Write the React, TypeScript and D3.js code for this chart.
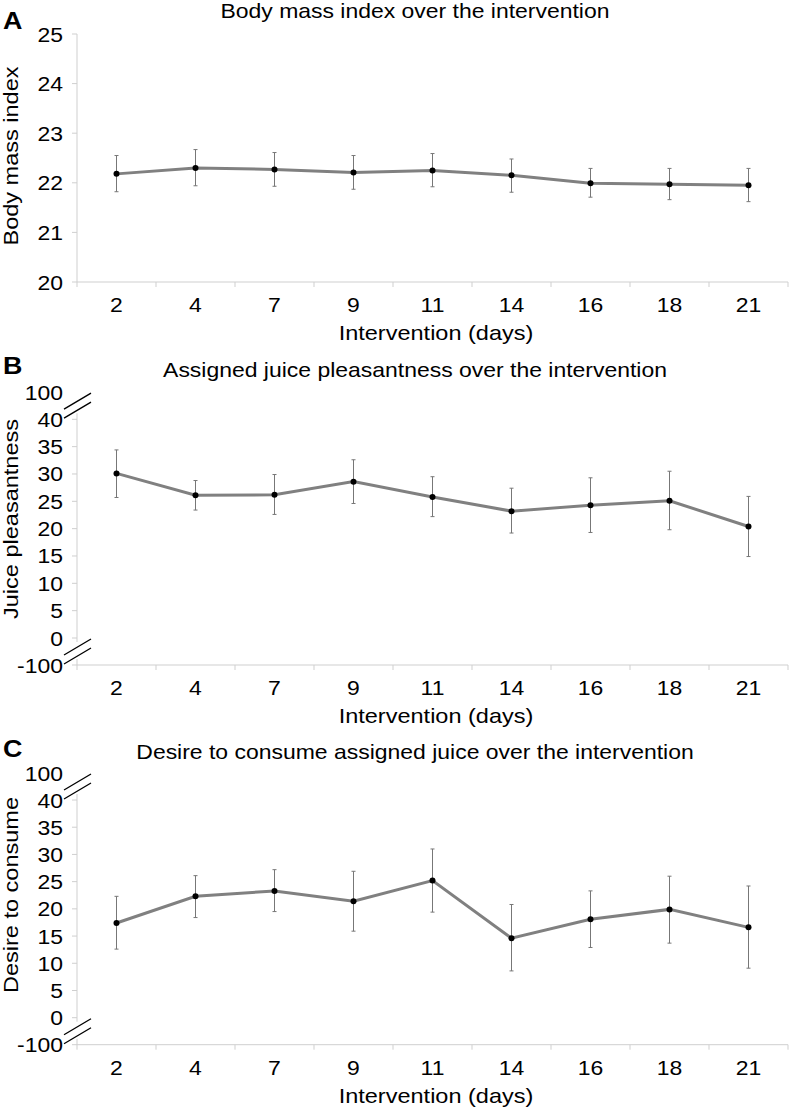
import React from 'react';
import * as d3 from 'd3';

// intervention days (x categories)
const days = ['2', '4', '7', '9', '11', '14', '16', '18', '21'];

// A - body mass index
const bmiMean = [22.18, 22.3, 22.27, 22.21, 22.25, 22.15, 21.99, 21.97, 21.95];
const bmiHigh = [22.55, 22.67, 22.61, 22.55, 22.59, 22.48, 22.29, 22.29, 22.29];
const bmiLow = [21.82, 21.94, 21.93, 21.87, 21.92, 21.81, 21.71, 21.66, 21.62];
const bmiTicks = [20, 21, 22, 23, 24, 25];

// B - juice pleasantness
const pleasMean = [30.1, 26.1, 26.2, 28.6, 25.8, 23.2, 24.3, 25.1, 20.4];
const pleasHigh = [34.4, 28.8, 29.9, 32.6, 29.5, 27.4, 29.3, 30.5, 25.9];
const pleasLow = [25.7, 23.4, 22.6, 24.6, 22.2, 19.2, 19.3, 19.8, 14.9];

// C - desire to consume
const desireMean = [17.4, 22.3, 23.3, 21.4, 25.2, 14.6, 18.1, 19.9, 16.6];
const desireHigh = [22.3, 26.1, 27.2, 26.9, 31.0, 20.8, 23.3, 26.0, 24.2];
const desireLow = [12.6, 18.4, 19.5, 15.9, 19.4, 8.6, 12.9, 13.7, 9.1];

// broken axis ticks used by B and C
const brokenTicks = [-100, 0, 5, 10, 15, 20, 25, 30, 35, 40, 100];

const FONT = '"Liberation Sans", Arial, sans-serif';
const SX = 1.12; // the source font runs wider than Arial
const AXIS = '#cfcfcf';

const T = ({ x, y, anchor = 'middle', size = 20.5, weight = 'normal', rotate = false, children }: any) => (
  <text
    transform={`translate(${x},${y})${rotate ? ' rotate(-90)' : ''} scale(${SX},1)`}
    textAnchor={anchor}
    fontSize={size}
    fontWeight={weight}
    fontFamily={FONT}
    fill="#000"
  >
    {children}
  </text>
);

const x = d3.scaleBand<string>().domain(days).range([77, 788]);

const Panel = ({ letter, letterY, title, titleY, yLabel, yLabelY, y, ticks, mean, high, low, broken }: any) => {
  const axisY = y(ticks[0]);
  const line = d3.line<number>()
    .x((_, i) => x(days[i])! + x.bandwidth() / 2)
    .y(d => y(d));
  const boundaries = days.map(d => x(d)!).concat([x.range()[1]]);

  const slashes = (mid: number) =>
    [-4.5, 4.5].map(o => (
      <line key={`${mid}${o}`} x1={64} y1={mid + o + 8} x2={91} y2={mid + o - 8} stroke="#000" strokeWidth={1.3} />
    ));

  const topMid = broken ? (y(40) + y(100)) / 2 : 0;
  const botMid = broken ? (y(0) + y(-100)) / 2 : 0;

  return (
    <g>
      <T x={3} y={letterY} anchor="start" size={24} weight="bold">{letter}</T>
      <T x={415} y={titleY}>{title}</T>
      <T x={18} y={yLabelY} rotate size={21}>{yLabel}</T>

      {/* y axis */}
      {broken ? (
        <g>
          <line x1={77} x2={77} y1={y(40) - 6} y2={y(0) + 4} stroke={AXIS} />
          <line x1={77} x2={77} y1={axisY} y2={axisY - 6} stroke={AXIS} />
        </g>
      ) : (
        <line x1={77} x2={77} y1={y(ticks[ticks.length - 1])} y2={axisY} stroke={AXIS} />
      )}
      {ticks.map((t: number) => (
        <g key={t}>
          {!(broken && t === 100) && <line x1={72} x2={77} y1={y(t)} y2={y(t)} stroke={AXIS} />}
          <T x={63} y={y(t) + 7.5} anchor="end">{t}</T>
        </g>
      ))}

      {/* x axis */}
      <line x1={77} x2={x.range()[1]} y1={axisY} y2={axisY} stroke={AXIS} />
      {boundaries.map((b, i) => (
        <line key={i} x1={b} x2={b} y1={axisY} y2={axisY + 5} stroke={AXIS} />
      ))}
      {days.map(d => (
        <T key={d} x={x(d)! + x.bandwidth() / 2} y={axisY + 30}>{d}</T>
      ))}
      <T x={436} y={axisY + 58} size={21}>Intervention (days)</T>

      {broken && slashes(topMid)}
      {broken && slashes(botMid)}

      {/* error bars */}
      {days.map((d, i) => {
        const cx = x(d)! + x.bandwidth() / 2;
        return (
          <g key={d} stroke="#777" strokeWidth={1}>
            <line x1={cx} x2={cx} y1={y(high[i])} y2={y(low[i])} />
            <line x1={cx - 2} x2={cx + 2} y1={y(high[i])} y2={y(high[i])} />
            <line x1={cx - 2} x2={cx + 2} y1={y(low[i])} y2={y(low[i])} />
          </g>
        );
      })}

      <path d={line(mean)!} fill="none" stroke="#808080" strokeWidth={3} />
      {mean.map((v: number, i: number) => (
        <circle key={i} cx={x(days[i])! + x.bandwidth() / 2} cy={y(v)} r={3} fill="#000" />
      ))}
    </g>
  );
};

export default function App() {
  const yA = d3.scaleLinear().domain([20, 25]).range([282, 34]);
  const yB = d3.scaleLinear().domain([-100, 0, 40, 100]).range([665, 638, 419.3, 392]);
  const yC = d3.scaleLinear().domain([-100, 0, 40, 100]).range([1044.7, 1017.7, 800, 773]);

  return (
    <svg width={789} height={1112} style={{ position: 'absolute', left: 0, top: 0, background: '#fff' }}>
      <rect width={789} height={1112} fill="#fff" />
      <Panel letter="A" letterY={29} title="Body mass index over the intervention" titleY={18}
        yLabel="Body mass index" yLabelY={156} y={yA} ticks={bmiTicks}
        mean={bmiMean} high={bmiHigh} low={bmiLow} broken={false} />
      <Panel letter="B" letterY={374} title="Assigned juice pleasantness over the intervention" titleY={377}
        yLabel="Juice pleasantness" yLabelY={519} y={yB} ticks={brokenTicks}
        mean={pleasMean} high={pleasHigh} low={pleasLow} broken />
      <Panel letter="C" letterY={757} title="Desire to consume assigned juice over the intervention" titleY={759}
        yLabel="Desire to consume" yLabelY={895} y={yC} ticks={brokenTicks}
        mean={desireMean} high={desireHigh} low={desireLow} broken />
    </svg>
  );
}
